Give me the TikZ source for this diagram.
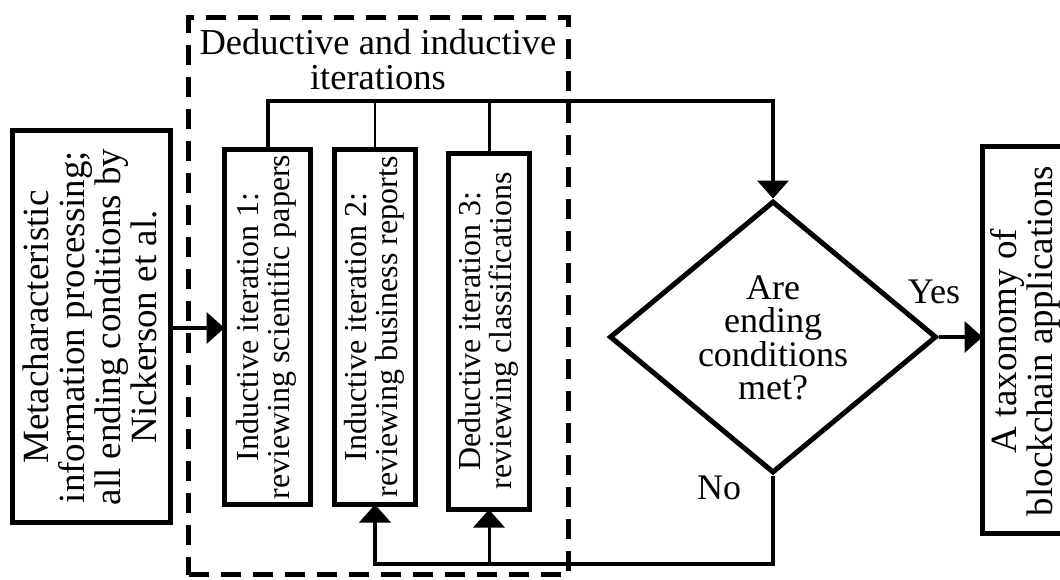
\documentclass[tikz,border=0pt]{standalone}
\usepackage{fontspec}
\setmainfont{Liberation Serif}
\usetikzlibrary{arrows.meta,shapes.geometric}
\begin{document}
\begin{tikzpicture}[x=1pt,y=-1pt,
  box/.style={draw,line width=5pt,inner sep=0pt,outer sep=0pt},
  conn/.style={line width=4pt},
  arr/.style={-{Triangle[length=18pt,width=31pt]}},
  txt/.style={font=\fontsize{36}{35}\selectfont,align=center,inner sep=0pt},
  rtxt/.style={rotate=90,font=\fontsize{32}{31}\selectfont,align=center,inner sep=0pt},
  grpbox/.style={draw,line width=5pt,dash pattern=on 20pt off 12pt,inner sep=0pt}]
\useasboundingbox (0,0) rectangle (1060,579);
% dashed group
\node[grpbox,minimum width=380,minimum height=557] (grp) at (378.5,296) {};
\node[txt,font=\fontsize{36.5}{35}\selectfont] (title) at (378,60) {Deductive and inductive\\iterations};
% boxes
\node[box,minimum width=158,minimum height=392] (lb) at (91.5,326.5) {};
\node[rtxt,font=\fontsize{37}{36}\selectfont] (lbt) at (90,327) {Metacharacteristic\\information processing;\\all ending conditions by\\Nickerson et al.};
\node[box,minimum width=86,minimum height=355] (b1) at (267.5,327) {};
\node[rtxt] (b1t) at (266,327) {Inductive iteration 1:\\reviewing scientific papers};
\node[box,minimum width=81,minimum height=355] (b2) at (375,327) {};
\node[rtxt] (b2t) at (374,327) {Inductive iteration 2:\\reviewing business reports};
\node[box,minimum width=81,minimum height=356] (b3) at (489,331.5) {};
\node[rtxt] (b3t) at (488,331) {Deductive iteration 3:\\reviewing classifications};
\node[diamond,draw,line width=5pt,minimum width=327,minimum height=272,inner sep=0pt] (d) at (773,337) {};
\node[txt,font=\fontsize{36}{33.5}\selectfont] (dt) at (773,338) {Are\\ending\\conditions\\met?};
\node[box,minimum width=110,minimum height=387] (tax) at (1037.5,340) {};
\node[rtxt,font=\fontsize{37}{36}\selectfont] (taxt) at (1025,341) {A taxonomy of\\blockchain applications};
% labels
\node[txt] (yes) at (934,292) {Yes};
\node[txt] (no) at (719,488) {No};
% connectors
\coordinate (top) at (773,101);
\coordinate (bot) at (773,564);
\draw[conn,arr] (lb.east |- 0,328) -- (b1.west |- 0,328);
\draw[conn,arr] (b1.north) |- (top) -- (d.north);
\draw[line width=2.5pt] (b2.north) -- (b2.north |- top);
\draw[line width=3pt] (b3.north) -- (b3.north |- top);
\draw[conn,arr] (d.south) -- (bot) -| (b2.south);
\draw[line width=3pt,arr] (b3.south |- bot) -- (b3.south);
\draw[conn,arr] (d.east) -- (d.east -| tax.west);
\end{tikzpicture}
\end{document}
